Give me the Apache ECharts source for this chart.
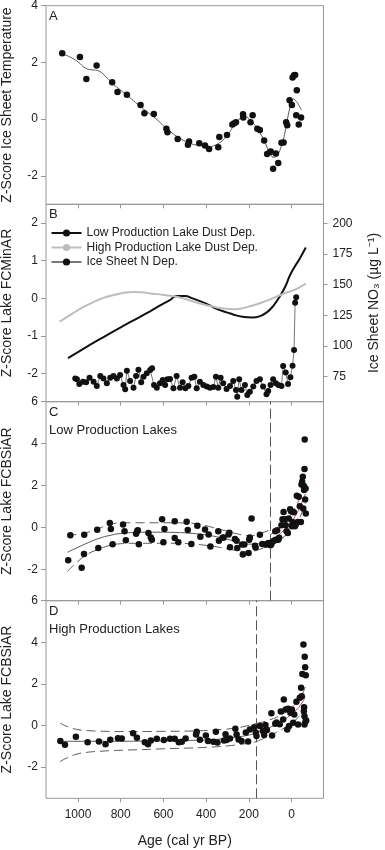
<!DOCTYPE html>
<html><head><meta charset="utf-8">
<script src="https://cdn.jsdelivr.net/npm/echarts@6/dist/echarts.min.js"></script>
<style>html,body{margin:0;padding:0;background:#fff}#c{width:385px;height:850px}</style>
</head><body><div id="c"></div>
<script>
// ---------- Panel A: ice sheet temperature ----------
const aAge = [1074, 991, 961, 913, 840, 815, 771, 707, 689, 645, 586, 581, 533, 485, 480, 432, 405, 386, 343, 338, 302, 277, 270, 260, 227, 226, 192, 182, 160, 148, 128, 114, 101, 97, 86, 73, 62, 47, 37, 25, 20, 9, -2, -5, -12, -17, -25, -22, -34, -45];
const aVal = [2.32, 2.19, 1.42, 1.89, 1.30, 0.96, 0.86, 0.50, 0.21, 0.18, -0.34, -0.46, -0.70, -0.90, -0.79, -0.85, -0.93, -1.05, -0.99, -0.63, -0.56, -0.19, -0.15, -0.11, 0.17, 0.06, -0.11, 0.14, -0.34, -0.38, -0.75, -1.23, -1.16, -1.14, -1.75, -1.21, -1.54, -0.83, -0.82, -0.11, -0.21, 0.67, 0.50, 1.47, 1.55, 1.56, 1.02, 0.14, -0.19, 0.06];
const aFitAge = [1074, 1040, 1000, 965, 935, 910, 870, 840, 800, 771, 740, 707, 675, 645, 615, 586, 560, 533, 505, 480, 440, 400, 386, 365, 343, 320, 302, 285, 273, 250, 226, 210, 192, 175, 160, 145, 128, 115, 101, 86, 74, 62, 50, 39, 30, 20, 10, 0, -8, -23, -35, -47];
const aFitVal = [2.30, 2.20, 2.02, 1.80, 1.74, 1.72, 1.50, 1.27, 1.02, 0.85, 0.65, 0.44, 0.25, 0.08, -0.12, -0.33, -0.48, -0.63, -0.75, -0.84, -0.92, -0.96, -0.98, -0.94, -0.86, -0.73, -0.57, -0.40, -0.25, -0.05, 0.11, 0.08, -0.04, -0.18, -0.33, -0.52, -0.75, -0.98, -1.16, -1.34, -1.33, -1.22, -1.00, -0.75, -0.45, -0.04, 0.32, 0.62, 0.71, 0.62, 0.48, 0.32];

// ---------- Panel B ----------
const bLowAge = [1047, 950, 896, 800, 740, 680, 615, 570, 538, 500, 460, 400, 351, 300, 273, 230, 184, 150, 117, 85, 55, 30, 8, -15, -39, -67];
const bLowVal = [-1.59, -1.26, -1.08, -0.77, -0.59, -0.40, -0.19, -0.05, 0.06, 0.06, -0.01, -0.14, -0.28, -0.38, -0.43, -0.49, -0.51, -0.48, -0.38, -0.20, 0.05, 0.30, 0.60, 0.84, 1.06, 1.35];
const bHighAge = [1086, 1030, 974, 920, 865, 800, 740, 700, 662, 600, 538, 480, 428, 370, 304, 260, 241, 200, 148, 100, 55, 20, -8, -40, -67];
const bHighVal = [-0.62, -0.42, -0.23, -0.08, 0.04, 0.13, 0.17, 0.16, 0.13, 0.09, 0.04, -0.05, -0.14, -0.22, -0.28, -0.29, -0.28, -0.22, -0.13, -0.03, 0.08, 0.16, 0.21, 0.30, 0.39];
const bIceAge = [1013, 1005, 994, 977, 962, 946, 927, 912, 896, 881, 865, 849, 834, 818, 803, 787, 779, 771, 756, 740, 728, 717, 704, 693, 678, 662, 653, 644, 631, 616, 603, 592, 581, 569, 553, 538, 522, 510, 497, 483, 468, 455, 444, 429, 413, 397, 382, 366, 354, 343, 332, 320, 304, 288, 273, 260, 254, 245, 234, 218, 207, 195, 179, 164, 148, 133, 117, 109, 98, 86, 73, 61, 47, 39, 27, 16, 5, -5, -12, -17, -22];
const bIceNO3 = [73.5, 72.8, 69.0, 70.9, 70.4, 74.2, 70.9, 67.4, 75.5, 73.6, 69.6, 74.2, 75.5, 73.6, 76.4, 68.2, 64.7, 79.9, 71.5, 66.0, 75.5, 80.7, 70.4, 75.0, 77.7, 80.4, 81.8, 68.2, 66.0, 69.6, 72.3, 68.2, 72.8, 73.1, 65.5, 75.5, 66.0, 70.4, 65.5, 67.4, 74.2, 75.0, 65.5, 70.9, 68.2, 66.9, 66.0, 66.6, 75.0, 66.0, 74.2, 69.6, 65.0, 67.4, 71.5, 64.1, 58.7, 72.8, 64.1, 68.2, 60.1, 62.8, 66.9, 71.5, 72.8, 66.9, 60.6, 63.3, 68.2, 72.8, 69.6, 68.2, 67.4, 83.7, 78.5, 69.0, 74.5, 84.0, 96.7, 135.3, 139.7];

// ---------- Panel C: low production lakes ----------
const cAge = [1046, 1036, 983, 972, 971, 910, 905, 851, 846, 838, 789, 782, 776, 728, 723, 720, 715, 670, 659, 654, 606, 600, 595, 547, 547, 530, 491, 486, 469, 441, 427, 405, 388, 380, 343, 340, 323, 318, 295, 291, 288, 265, 257, 254, 231, 228, 221, 201, 198, 195, 187, 171, 168, 148, 137, 125, 117, 108, 98, 94, 86, 78, 73, 62, 76, 67, 58, 47, 42, 37, 31, 27, 23, 17, 13, 6, 2, -2, -5, -11, -16, -20, -25, -30, -34, -39, -44, -47, -50, -53, -58, -61, -62, -66, -64, -67, -55, -59];
const cVal = [-1.57, -0.37, -1.93, -1.27, -0.35, -0.11, -0.98, 0.21, -0.08, -0.80, 0.14, -0.19, -0.61, -0.30, -0.18, -0.14, -0.80, -0.27, -0.48, -0.59, 0.39, -0.71, -0.08, -0.51, 0.29, -0.71, 0.27, -0.13, -0.79, 0.08, -0.45, -0.10, -0.34, -0.91, -0.19, -0.64, -0.50, -0.48, -0.34, -0.26, -0.95, -0.56, -0.64, -0.99, -0.82, -1.30, -0.82, -1.22, -0.59, -0.48, 0.43, -0.88, -0.96, -0.35, -0.79, -0.82, -0.82, -0.74, -0.85, -0.79, -0.66, -0.62, -0.59, -0.59, -0.18, -0.14, -0.50, 0.10, 0.39, 0.74, 0.39, 0.10, -0.18, -0.27, 0.42, 0.87, 0.77, 0.06, 0.26, 0.72, 0.06, 0.14, 1.51, 0.26, 1.46, 1.01, 0.26, 2.05, 2.18, 2.42, 1.97, 2.79, 4.19, 1.86, 1.33, 0.66, 0.90, 1.78];
const cFitAge = [1050, 1000, 950, 900, 850, 800, 750, 700, 650, 600, 550, 500, 450, 400, 350, 300, 250, 200, 150, 101];
const cFitMid = [-1.19, -0.95, -0.72, -0.52, -0.38, -0.29, -0.25, -0.23, -0.23, -0.23, -0.24, -0.26, -0.30, -0.36, -0.45, -0.57, -0.70, -0.80, -0.78, -0.62];
const cFitUp = [-0.35, -0.34, -0.22, -0.04, 0.15, 0.21, 0.22, 0.22, 0.22, 0.22, 0.22, 0.21, 0.18, 0.08, -0.06, -0.18, -0.32, -0.40, -0.30, -0.12];
const cFitLo = [-2.11, -1.62, -1.25, -1.03, -0.86, -0.78, -0.76, -0.76, -0.76, -0.76, -0.76, -0.77, -0.80, -0.86, -0.93, -1.02, -1.12, -1.16, -1.05, -0.86];
const cRecAge = [101, 80, 60, 40, 20, 0, -20, -40, -65];
const cRecMid = [-0.62, -0.50, -0.36, -0.18, 0.02, 0.27, 0.58, 0.98, 1.60];
const cRecUp = [-0.35, -0.22, -0.05, 0.15, 0.38, 0.66, 1.00, 1.40, 1.95];
const cRecLo = [-0.85, -0.75, -0.62, -0.48, -0.32, -0.12, 0.14, 0.50, 1.15];
const cBreak = 100;

// ---------- Panel D: high production lakes ----------
const dAge = [1083, 1061, 1010, 955, 902, 871, 849, 813, 795, 742, 724, 687, 672, 659, 631, 598, 569, 547, 528, 514, 496, 447, 444, 429, 401, 391, 366, 354, 347, 316, 309, 304, 288, 263, 257, 248, 234, 214, 203, 195, 175, 167, 164, 148, 134, 128, 122, 115, 94, 91, 76, 70, 55, 50, 36, 39, 27, 20, 16, 11, 5, -2, -8, -13, -23, -31, -39, -45, -48, -51, -56, -58, -59, -61, -61, -62, -64, -67, -66, -69];
const dVal = [-0.75, -0.93, -0.54, -0.80, -0.77, -0.90, -0.69, -0.61, -0.62, -0.37, -0.59, -0.80, -0.90, -0.72, -0.64, -0.70, -0.64, -0.64, -0.80, -0.78, -0.62, -0.43, -0.30, -0.69, -0.48, -0.74, -0.78, -0.30, -0.82, -0.72, -0.42, -0.70, -0.62, -0.16, -0.43, -0.67, -0.75, -0.34, -0.77, -0.19, -0.08, -0.34, -0.51, -0.03, -0.27, -0.46, 0.03, -0.22, 0.59, -0.48, 0.08, 0.14, 0.06, 0.67, 1.25, 0.29, 0.77, -0.19, 0.80, -0.03, 0.61, 0.77, 0.13, 0.53, 1.14, 0.05, 1.33, 1.81, 1.41, 2.48, 3.89, 0.69, 0.88, 0.45, 0.05, 3.30, 2.80, 2.42, 0.21, 0.24];
const dFitAge = [1085, 1050, 1000, 950, 900, 800, 700, 600, 500, 400, 300, 250, 200, 165];
const dFitMid = [-0.76, -0.76, -0.76, -0.76, -0.76, -0.76, -0.75, -0.74, -0.72, -0.69, -0.62, -0.55, -0.46, -0.36];
const dFitUp = [0.12, -0.05, -0.20, -0.25, -0.27, -0.29, -0.29, -0.28, -0.27, -0.24, -0.17, -0.10, 0.00, 0.10];
const dFitLo = [-1.74, -1.55, -1.36, -1.28, -1.24, -1.19, -1.16, -1.12, -1.09, -1.05, -0.98, -0.92, -0.85, -0.78];
const dRecAge = [165, 130, 100, 70, 40, 10, -20, -45, -65];
const dRecMid = [-0.36, -0.22, -0.09, 0.06, 0.24, 0.45, 0.72, 1.02, 1.38];
const dRecUp = [0.10, 0.18, 0.28, 0.40, 0.56, 0.78, 1.06, 1.40, 1.85];
const dRecLo = [-0.78, -0.62, -0.48, -0.33, -0.16, 0.04, 0.28, 0.56, 0.92];
const dBreak = 165;

// ---------- ticks / labels ----------
const ageTicks = [1000, 800, 600, 400, 200, 0];
const aTicks = [-2, 0, 2, 4];
const bTicks = [-2, -1, 0, 1, 2];
const bRightTicks = [75, 100, 125, 150, 175, 200];
const cdTicks = [-2, 0, 2, 4, 6];

const FONT = '"Liberation Sans", Arial, sans-serif';
const TXT = '#222';
const FRAME = '#999';
const zip = (a, b) => a.map((x, i) => [x, b[i]]);

const grids = [
  {left: 46, width: 277.5, top: 5.7, height: 198.6},
  {left: 46, width: 277.5, top: 204.3, height: 197.4},
  {left: 46, width: 277.5, top: 401.7, height: 199},
  {left: 46, width: 277.5, top: 600.7, height: 197.6}
].map(g => Object.assign(g, {show: true, borderColor: FRAME, borderWidth: 1, backgroundColor: 'transparent',
  containLabel: false, outerBoundsMode: 'none'}));

function xAx(gi, labels) {
  return {
    gridIndex: gi, type: 'value', inverse: true, min: -150, max: 1150,
    axisLine: {show: false, onZero: false}, splitLine: {show: false},
    axisTick: {show: true, inside: false, length: 4, lineStyle: {color: FRAME}, customValues: ageTicks},
    axisLabel: {show: labels, customValues: ageTicks, margin: 10, fontSize: 12, color: TXT, fontFamily: FONT,
      formatter: v => String(v)},
    name: labels ? 'Age (cal yr BP)' : '', nameLocation: 'middle', nameGap: 36,
    nameTextStyle: {fontSize: 14, color: TXT, fontFamily: FONT}
  };
}
function yAx(gi, min, max, ticks, name, right) {
  return {
    gridIndex: gi, type: 'value', min: min, max: max, position: right ? 'right' : 'left',
    axisLine: {show: false, onZero: false}, splitLine: {show: false},
    axisTick: {show: true, inside: false, length: right ? 4 : 5, lineStyle: {color: FRAME}, customValues: ticks},
    axisLabel: {customValues: ticks, margin: right ? 9 : 8, fontSize: 12, color: TXT, fontFamily: FONT,
      formatter: v => String(v)},
    name: name, nameLocation: 'middle', nameRotate: 90, nameGap: right ? 44 : 32,
    nameTextStyle: {fontSize: 14, color: TXT, fontFamily: FONT}
  };
}

const dot = {color: '#111', opacity: 1};
function scatter(xi, yi, ages, vals) {
  return {type: 'scatter', xAxisIndex: xi, yAxisIndex: yi, data: zip(ages, vals), symbolSize: 6.5, itemStyle: dot, silent: true, z: 5};
}
function fit(xi, yi, ages, vals, color, dashed, width, name) {
  return {type: 'line', name: name, xAxisIndex: xi, yAxisIndex: yi, data: zip(ages, vals), smooth: true, symbol: 'none',
    lineStyle: {color: color, width: width || 1, type: dashed ? [9, 5] : 'solid'}, itemStyle: {color: color}, silent: true, z: 3};
}
function vline(xi, yi, age) {
  return {type: 'line', xAxisIndex: xi, yAxisIndex: yi, data: [], silent: true,
    markLine: {symbol: 'none', silent: true, label: {show: false},
      lineStyle: {color: '#555', width: 1, type: [10, 4]}, data: [{xAxis: age}], animation: false}};
}

const option = {
  animation: false,
  grid: grids,
  xAxis: [xAx(0, false), xAx(1, false), xAx(2, false), xAx(3, true)],
  yAxis: [
    yAx(0, -3, 4, aTicks, 'Z-Score Ice Sheet Temperature'),
    yAx(1, -2.75, 2.5, bTicks, 'Z-Score Lake FCMinAR'),
    yAx(1, 54.6, 215.5, bRightTicks, 'Ice Sheet NO\u2083 (\u00b5g L\u207b\u00b9)', true),
    yAx(2, -3.5, 6, cdTicks, 'Z-Score Lake FCBSiAR'),
    yAx(3, -3.5, 6, cdTicks, 'Z-Score Lake FCBSiAR')
  ],
  legend: {
    data: ['Low Production Lake Dust Dep.', 'High Production Lake Dust Dep.', 'Ice Sheet N Dep.'],
    orient: 'vertical', left: 50.5, top: 227, padding: 0, itemWidth: 30, itemHeight: 9, itemGap: 2.5, selectedMode: false,
    textStyle: {fontSize: 12, color: TXT, fontFamily: FONT}
  },
  graphic: [
    {type: 'text', left: 49, top: 10, style: {text: 'A', fontSize: 13, fill: TXT, fontFamily: FONT}},
    {type: 'text', left: 49, top: 208, style: {text: 'B', fontSize: 13, fill: TXT, fontFamily: FONT}},
    {type: 'text', left: 49, top: 406, style: {text: 'C', fontSize: 13, fill: TXT, fontFamily: FONT}},
    {type: 'text', left: 49, top: 423.5, style: {text: 'Low Production Lakes', fontSize: 13, fill: TXT, fontFamily: FONT}},
    {type: 'text', left: 49, top: 605, style: {text: 'D', fontSize: 13, fill: TXT, fontFamily: FONT}},
    {type: 'text', left: 49, top: 622.5, style: {text: 'High Production Lakes', fontSize: 13, fill: TXT, fontFamily: FONT}}
  ],
  series: [
    // A
    fit(0, 0, aFitAge, aFitVal, '#555', false, 1),
    scatter(0, 0, aAge, aVal),
    // B
    fit(1, 1, bLowAge, bLowVal, '#111', false, 2, 'Low Production Lake Dust Dep.'),
    fit(1, 1, bHighAge, bHighVal, '#bdbdbd', false, 2, 'High Production Lake Dust Dep.'),
    {type: 'line', name: 'Ice Sheet N Dep.', xAxisIndex: 1, yAxisIndex: 2, data: zip(bIceAge, bIceNO3),
      symbol: 'circle', symbolSize: 6, showAllSymbol: true, lineStyle: {color: '#777', width: 1}, itemStyle: {color: '#111', opacity: 1}, silent: true, z: 4},
    // C
    fit(2, 3, cFitAge, cFitMid, '#555', false, 1),
    fit(2, 3, cFitAge, cFitUp, '#555', true, 1),
    fit(2, 3, cFitAge, cFitLo, '#555', true, 1),
    fit(2, 3, cRecAge, cRecMid, '#d04040', false, 1),
    fit(2, 3, cRecAge, cRecUp, '#555', true, 1),
    fit(2, 3, cRecAge, cRecLo, '#555', true, 1),
    vline(2, 3, cBreak),
    scatter(2, 3, cAge, cVal),
    // D
    fit(3, 4, dFitAge, dFitMid, '#555', false, 1),
    fit(3, 4, dFitAge, dFitUp, '#555', true, 1),
    fit(3, 4, dFitAge, dFitLo, '#555', true, 1),
    fit(3, 4, dRecAge, dRecMid, '#d04040', false, 1),
    fit(3, 4, dRecAge, dRecUp, '#555', true, 1),
    fit(3, 4, dRecAge, dRecLo, '#555', true, 1),
    vline(3, 4, dBreak),
    scatter(3, 4, dAge, dVal)
  ]
};
const chart = echarts.init(document.getElementById('c'), null, {renderer: 'canvas'});
chart.setOption(option);
</script></body></html>
